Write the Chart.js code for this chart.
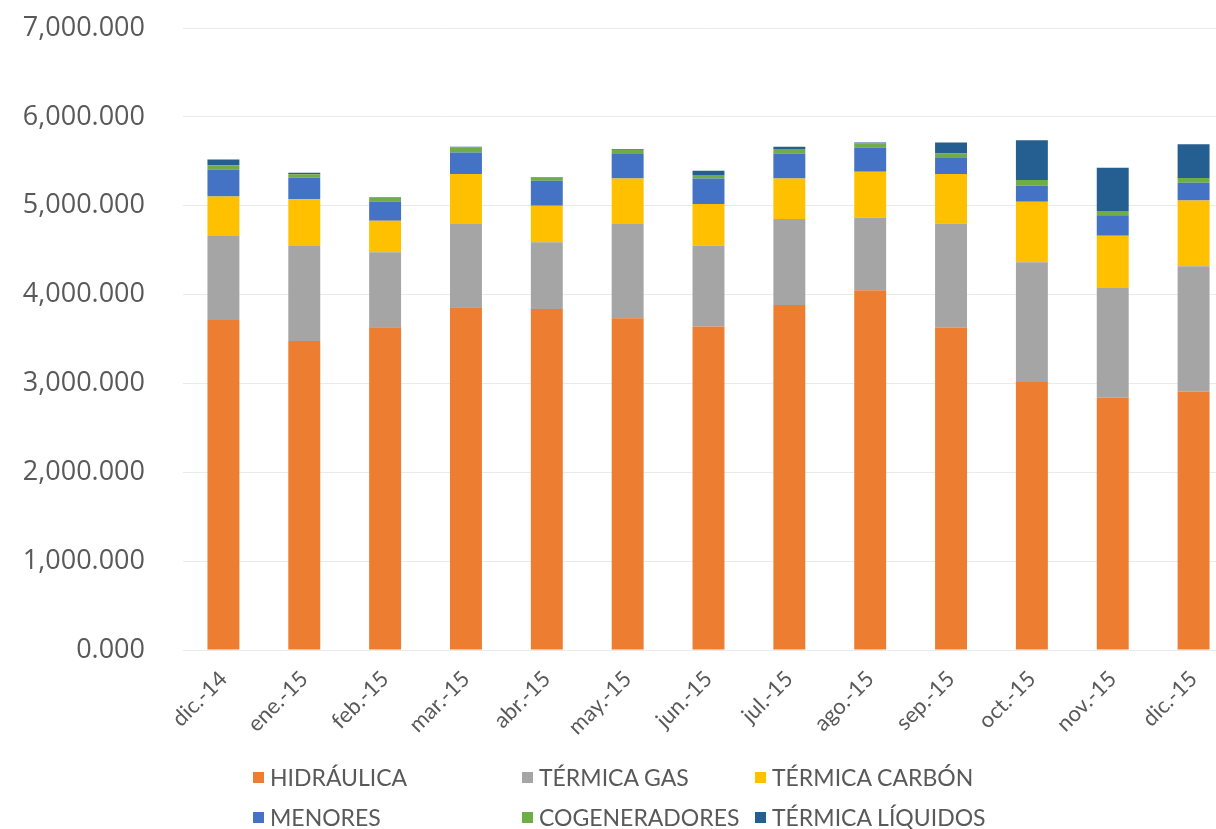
<!DOCTYPE html>
<html>
<head>
<meta charset="utf-8">
<script src="https://cdn.jsdelivr.net/npm/chart.js@4.4.0/dist/chart.umd.min.js"></script>
<style>
  html, body { margin: 0; padding: 0; background: #ffffff; overflow: hidden; width: 1216px; height: 829px; }
  #wrap { position: absolute; left: 0; top: 0; width: 1234px; height: 829px; }
  #legend { position: absolute; left: 0; top: 0; width: 1216px; height: 829px; pointer-events: none;
    font-family: Lato, "Open Sans", "Liberation Sans", sans-serif;
    font-size: 23px; color: #595959; }
  .item { position: absolute; display: flex; align-items: center; white-space: nowrap; height: 30px; }
  .box { width: 11px; height: 11px; margin-right: 6px; }
</style>
</head>
<body>
<div id="wrap"><canvas id="c"></canvas></div>
<div id="legend"></div>
<script>
const categories = ["dic.-14","ene.-15","feb.-15","mar.-15","abr.-15","may.-15","jun.-15","jul.-15","ago.-15","sep.-15","oct.-15","nov.-15","dic.-15"];
const seriesNames = ["HIDRÁULICA","TÉRMICA GAS","TÉRMICA CARBÓN","MENORES","COGENERADORES","TÉRMICA LÍQUIDOS"];
const hidraulica = [3713, 3478, 3633, 3857, 3839, 3734, 3640, 3884, 4050, 3626, 3015, 2840, 2910];
const termicaGas = [945, 1070, 842, 937, 749, 1060, 911, 967, 818, 1175, 1348, 1235, 1410];
const termicaCarbon = [447, 525, 356, 562, 412, 513, 468, 456, 513, 555, 682, 587, 738];
const menores = [302, 243, 217, 243, 281, 274, 288, 281, 273, 180, 180, 230, 200];
const cogeneradores = [49, 38, 45, 56, 37, 48, 38, 49, 49, 52, 64, 48, 53];
const termicaLiquidos = [64, 18, 5, 8, 5, 8, 48, 26, 8, 123, 449, 487, 382];
const yTicks = [0, 1000, 2000, 3000, 4000, 5000, 6000, 7000];
const colors = ["#ED7D31", "#A5A5A5", "#FFC000", "#4472C4", "#70AD47", "#255E91"];

const seriesData = [hidraulica, termicaGas, termicaCarbon, menores, cogeneradores, termicaLiquidos];
const datasets = seriesNames.map((n, i) => ({
  label: n, data: seriesData[i], backgroundColor: colors[i], borderWidth: 0,
  categoryPercentage: 1.0, barPercentage: 0.395
}));

const sansFont = '"Open Sans", "DejaVu Sans", sans-serif';
const labelFont = 'Lato, "Open Sans", sans-serif';

new Chart(document.getElementById('c'), {
  type: 'bar',
  data: { labels: categories, datasets: datasets },
  options: {
    responsive: true, maintainAspectRatio: false, animation: false,
    devicePixelRatio: 1,
    layout: { padding: { left: 0, right: 0, top: 28, bottom: 0 } },
    plugins: { legend: { display: false }, tooltip: { enabled: false } },
    scales: {
      x: {
        stacked: true,
        afterFit: (s) => { s.height = 179; },
        grid: { display: false, drawTicks: false },
        border: { display: false },
        ticks: { color: '#595959', font: { family: labelFont, size: 22 }, minRotation: 45, maxRotation: 45, padding: 16 }
      },
      y: {
        stacked: true, min: 0, max: 7000,
        afterBuildTicks: (s) => { s.ticks = yTicks.map(v => ({ value: v })); },
        afterFit: (s) => { s.width = 183; s.paddingTop = 0; s.paddingBottom = 0; },
        grid: { color: '#EAEAEA', lineWidth: 1, drawTicks: false },
        border: { display: false },
        ticks: {
          color: '#595959', padding: 38, font: { family: sansFont, size: 27 },
          callback: (v) => Number(v).toLocaleString('en-US', { minimumFractionDigits: 3, maximumFractionDigits: 3 })
        }
      }
    }
  }
});

const legend = document.getElementById('legend');
const colX = [253, 522, 755];
const rowY = [777, 817];
seriesNames.forEach((n, i) => {
  const el = document.createElement('div');
  el.className = 'item';
  el.style.left = colX[i % 3] + 'px';
  el.style.top = (rowY[Math.floor(i / 3)] - 15) + 'px';
  el.innerHTML = '<span class="box" style="background:' + colors[i] + '"></span><span>' + n + '</span>';
  legend.appendChild(el);
});
</script>
</body>
</html>
